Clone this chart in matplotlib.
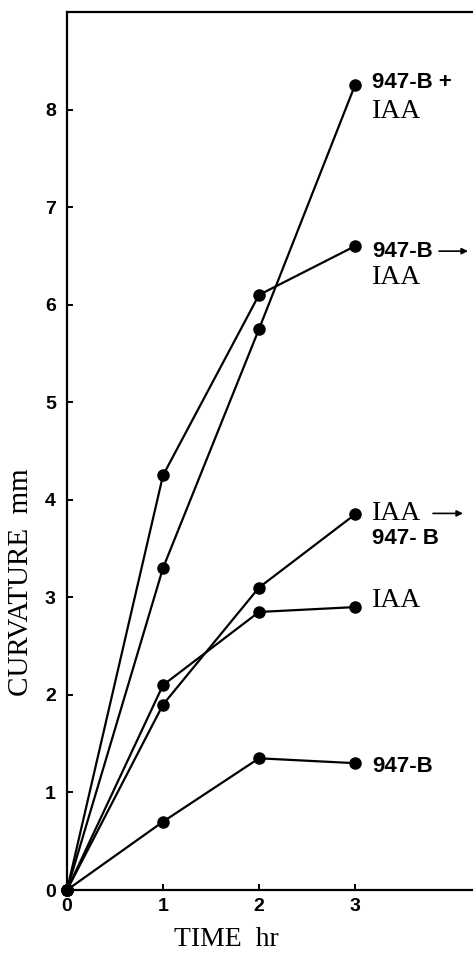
import matplotlib
matplotlib.use("Agg")
import matplotlib.pyplot as plt
from matplotlib.transforms import offset_copy

# time points (hr)
hours = [0, 1, 2, 3]

# curvature (mm) for each treatment
b947_plus_iaa = [0, 3.3, 5.75, 8.25]
b947_then_iaa = [0, 4.25, 6.1, 6.6]
iaa_then_b947 = [0, 1.9, 3.1, 3.85]
iaa_only = [0, 2.1, 2.85, 2.9]
b947_only = [0, 0.7, 1.35, 1.3]

series = [b947_plus_iaa, b947_then_iaa, iaa_then_b947, iaa_only, b947_only]

xticks = [0, 1, 2, 3]
yticks = [0, 1, 2, 3, 4, 5, 6, 7, 8]

SANS = "Liberation Sans"
SERIF = "Liberation Serif"

fig = plt.figure(figsize=(4.73, 9.55), dpi=100)
ax = fig.add_axes([67 / 473, 65 / 955, 1 - 67 / 473, 878 / 955])

for ys in series:
    ax.plot(hours, ys, color="black", lw=1.6, marker="o", ms=8,
            mec="black", mfc="black", clip_on=False)

ax.set_xlim(0, 406 / 96)
ax.set_ylim(0, 9)
ax.set_xticks(xticks)
ax.set_yticks(yticks)
ax.tick_params(direction="in", length=4, width=1.4, pad=6)
ax.tick_params(axis="y", pad=8)
for lab in ax.get_xticklabels() + ax.get_yticklabels():
    lab.set_fontfamily(SANS)
    lab.set_fontweight("bold")
    lab.set_fontsize(14)

ax.spines["right"].set_visible(False)
for s in ["left", "top", "bottom"]:
    ax.spines[s].set_linewidth(1.6)

ax.set_ylabel("CURVATURE  mm", fontfamily=SERIF, fontsize=21)
ax.yaxis.set_label_coords(-0.081, 0.351)
ax.set_xlabel("TIME  hr", fontfamily=SERIF, fontsize=20)
ax.xaxis.set_label_coords(0.392, -0.042)
ax.xaxis.label.set_va("top")


def label(y, dy, txt, family, weight="normal", size=16, dx=17):
    ax.annotate(txt, xy=(3, y), xytext=(dx, dy), textcoords="offset pixels",
                ha="left", va="center", fontfamily=family,
                fontweight=weight, fontsize=size)


def arrow(y, dy, x0, x1):
    tr0 = offset_copy(ax.transData, fig=fig, x=x0, y=dy, units="dots")
    tr1 = offset_copy(ax.transData, fig=fig, x=x1, y=dy, units="dots")
    ax.annotate("", xy=(3, y), xycoords=tr1, xytext=(3, y), textcoords=tr0,
                arrowprops=dict(arrowstyle="-|>", lw=1.2, color="black",
                                mutation_scale=9, shrinkA=0, shrinkB=0))


# 947-B + IAA
label(b947_plus_iaa[3], 3, "947-B +", SANS, "bold")
label(b947_plus_iaa[3], -26, "IAA", SERIF, size=20)
# 947-B -> IAA
label(b947_then_iaa[3], -5, "947-B", SANS, "bold")
arrow(b947_then_iaa[3], -5, 84, 113)
label(b947_then_iaa[3], -31, "IAA", SERIF, size=20)
# IAA -> 947-B
label(iaa_then_b947[3], 1, "IAA", SERIF, size=20)
arrow(iaa_then_b947[3], 1, 78, 108)
label(iaa_then_b947[3], -24, "947- B", SANS, "bold")
# IAA
label(iaa_only[3], 7, "IAA", SERIF, size=20)
# 947-B
label(b947_only[3], -3, "947-B", SANS, "bold")

fig.savefig("out.png", dpi=100)
